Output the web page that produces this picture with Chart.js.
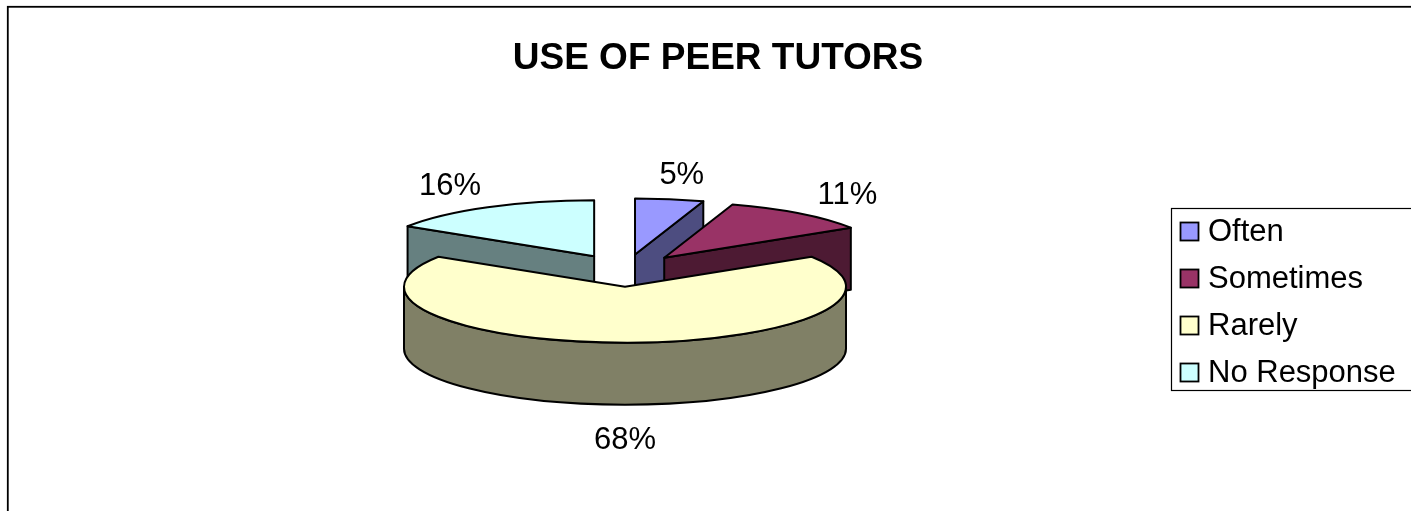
<!DOCTYPE html>
<html>
<head>
<meta charset="utf-8">
<script src="https://cdn.jsdelivr.net/npm/chart.js@4/dist/chart.umd.min.js"></script>
<style>
  html, body { margin: 0; padding: 0; background: #ffffff; }
  #wrap { width: 1411px; height: 511px; position: relative; }
  canvas { display: block; }
</style>
</head>
<body>
<div id="wrap"><canvas id="c" width="1411" height="511"></canvas></div>
<script>
// ---- data ----
const chartTitle = 'USE OF PEER TUTORS';
const categories = ['Often', 'Sometimes', 'Rarely', 'No Response'];
const values = [5, 11, 68, 16];
const topColors = ['#9999FF', '#993366', '#FFFFCC', '#CCFFFF'];
const sideColors = ['#4D4D80', '#4D1A33', '#808066', '#668080'];

// ---- style constants ----
const TILT = 0.2534;      // vertical squash of the pie plane
const DEPTH = 62;         // thickness of the pie
const EXPLODE = 64;       // explosion distance (in plane units)
const FONT = '"Liberation Sans", Arial, Helvetica, sans-serif';

const pie3d = {
  id: 'pie3d',
  beforeDatasetsDraw(chart) {
    const ctx = chart.ctx;
    const meta = chart.getDatasetMeta(0);
    const ds = chart.data.datasets[0];
    const total = ds.data.reduce((a, b) => a + b, 0);

    const slices = meta.data.map((arc, i) => {
      const p = arc.getProps(['x', 'y', 'startAngle', 'endAngle', 'outerRadius'], true);
      const mid = (p.startAngle + p.endAngle) / 2;
      const off = arc.options.offset || 0;
      return {
        i, s: p.startAngle, e: p.endAngle, r: p.outerRadius, mid,
        vx: p.x + Math.cos(mid) * off,
        vy: p.y + Math.sin(mid) * off * TILT,
        top: ds.backgroundColor[i], side: sideColors[i]
      };
    });

    const pt = (sl, a, z) => [sl.vx + Math.cos(a) * sl.r, sl.vy + Math.sin(a) * sl.r * TILT + z];

    ctx.save();
    ctx.lineWidth = 2;
    ctx.lineJoin = 'round';
    ctx.strokeStyle = '#000000';

    const order = slices.slice().sort((a, b) => Math.sin(a.mid) - Math.sin(b.mid));
    order.forEach(sl => {
      // radial faces
      const faces = [];
      if (Math.cos(sl.s) < -1e-6) faces.push(sl.s);
      if (Math.cos(sl.e) > 1e-6) faces.push(sl.e);
      faces.forEach(a => {
        const [x1, y1] = pt(sl, a, 0);
        const [x2, y2] = pt(sl, a, DEPTH);
        ctx.beginPath();
        ctx.moveTo(sl.vx, sl.vy);
        ctx.lineTo(x1, y1);
        ctx.lineTo(x2, y2);
        ctx.lineTo(sl.vx, sl.vy + DEPTH);
        ctx.closePath();
        ctx.fillStyle = sl.side;
        ctx.fill();
        ctx.stroke();
      });
      // outer wall (front half only)
      for (let n = -1; n <= 1; n++) {
        const a = Math.max(sl.s, 2 * Math.PI * n);
        const b = Math.min(sl.e, Math.PI + 2 * Math.PI * n);
        if (b - a > 1e-6) {
          ctx.beginPath();
          ctx.ellipse(sl.vx, sl.vy, sl.r, sl.r * TILT, 0, a, b, false);
          ctx.ellipse(sl.vx, sl.vy + DEPTH, sl.r, sl.r * TILT, 0, b, a, true);
          ctx.closePath();
          ctx.fillStyle = sl.side;
          ctx.fill();
          ctx.stroke();
        }
      }
      // top face
      ctx.beginPath();
      ctx.moveTo(sl.vx, sl.vy);
      ctx.ellipse(sl.vx, sl.vy, sl.r, sl.r * TILT, 0, sl.s, sl.e, false);
      ctx.closePath();
      ctx.fillStyle = sl.top;
      ctx.fill();
      ctx.stroke();
    });

    // data labels
    ctx.fillStyle = '#000000';
    ctx.font = '31px ' + FONT;
    ctx.textAlign = 'center';
    ctx.textBaseline = 'middle';
    slices.forEach(sl => {
      const pct = Math.round(ds.data[sl.i] / total * 100) + '%';
      const lx = sl.vx + Math.cos(sl.mid) * (sl.r + 78);
      const ly = sl.vy + Math.sin(sl.mid) * (sl.r * TILT + 30) + 6 + (Math.sin(sl.mid) > 0 ? DEPTH : 0);
      ctx.fillText(pct, lx, ly);
    });
    ctx.restore();
    return false;
  },
  afterDraw(chart) {
    const ctx = chart.ctx;
    ctx.save();
    // outer chart border
    ctx.strokeStyle = '#000000';
    ctx.lineWidth = 1.8;
    ctx.strokeRect(7.8, 6.8, 1500, 600);
    // title
    ctx.fillStyle = '#000000';
    ctx.font = 'bold 37px ' + FONT;
    ctx.textAlign = 'center';
    ctx.textBaseline = 'middle';
    ctx.fillText(chartTitle, 718, 59);
    // legend
    ctx.lineWidth = 1.2;
    ctx.strokeRect(1171.5, 208.5, 300, 182);
    ctx.font = '31px ' + FONT;
    ctx.textAlign = 'left';
    chart.data.labels.forEach((lab, i) => {
      const cy = 231.5 + i * 47;
      ctx.fillStyle = chart.data.datasets[0].backgroundColor[i];
      ctx.fillRect(1180.5, cy - 9, 18, 18);
      ctx.lineWidth = 1.8;
      ctx.strokeRect(1180.5, cy - 9, 18, 18);
      ctx.fillStyle = '#000000';
      ctx.fillText(lab, 1208, cy + 1);
    });
    ctx.restore();
  }
};

new Chart(document.getElementById('c'), {
  type: 'pie',
  data: {
    labels: categories,
    datasets: [{
      data: values,
      backgroundColor: topColors,
      borderColor: '#000000',
      borderWidth: 1,
      offset: EXPLODE
    }]
  },
  options: {
    responsive: false,
    devicePixelRatio: 1,
    animation: false,
    radius: 221,
    layout: { padding: { left: 0, right: 161, top: 30, bottom: 0 } },
    plugins: {
      legend: { display: false },
      title: { display: false },
      tooltip: { enabled: false }
    }
  },
  plugins: [pie3d]
});
</script>
</body>
</html>
